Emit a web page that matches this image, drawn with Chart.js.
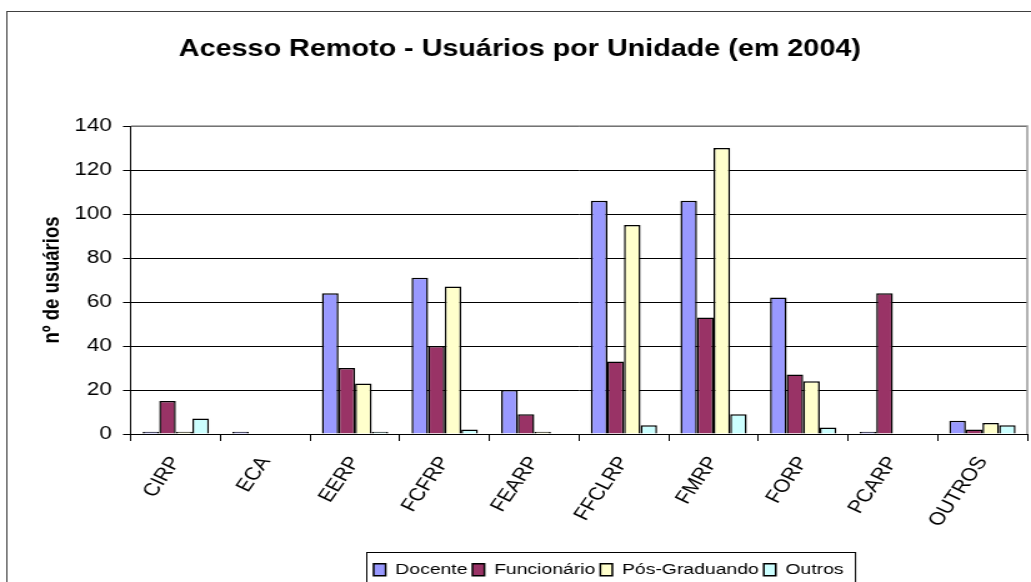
<!DOCTYPE html>
<html><head><meta charset="utf-8">
<script src="https://cdn.jsdelivr.net/npm/chart.js@4/dist/chart.umd.min.js"></script>
<style>html,body{margin:0;padding:0;background:#fff;overflow:hidden}
#c{display:block}</style>
</head><body>
<canvas id="c" width="825" height="582" style="width:1031px;height:582px"></canvas>
<script>
const categories = ['CIRP','ECA','EERP','FCFRP','FEARP','FFCLRP','FMRP','FORP','PCARP','OUTROS'];
const docente      = [1, 1, 64, 71, 20, 106, 106, 62, 1, 6];
const funcionario  = [15, 0, 30, 40, 9, 33, 53, 27, 64, 2];
const posGraduando = [1, 0, 23, 67, 1, 95, 130, 24, 0, 5];
const outros       = [7, 0, 1, 2, 0, 4, 9, 3, 0, 4];
const seriesNames  = ['Docente','Funcionário','Pós-Graduando','Outros'];
const yMin = 0, yMax = 140, yStep = 20;
const titleText = 'Acesso Remoto - Usuários por Unidade (em 2004)';
const yTitleText = 'nº de usuários';

const S = 1031 / 825; // horizontal stretch of the canvas
const FONT = "'Liberation Sans', Arial, sans-serif";
const LEGEND_FONT = 15.5, LEGEND_PAD = 4, LEGEND_BOXH = 12;
const LEGEND_H = Math.max(LEGEND_FONT, LEGEND_BOXH) + LEGEND_PAD + 10;
const LEGEND_CENTER_X = 487, LEGEND_DY = 5.5;
const TITLE_DX = 5;
const PLOT_BOTTOM = 434;

const decor = {
  id: 'decor',
  beforeDraw(chart) {
    const ctx = chart.ctx;
    ctx.save(); ctx.fillStyle = '#fff'; ctx.fillRect(0, 0, chart.width, chart.height); ctx.restore();
  },
  afterLayout(chart) {
    const lg = chart.legend;
    const dx = LEGEND_CENTER_X - (lg.left + lg.right) / 2;
    lg.left += dx; lg.right += dx; lg.top += LEGEND_DY; lg.bottom += LEGEND_DY;
    const tb = chart.titleBlock;
    if (tb) { tb.left += TITLE_DX; tb.right += TITLE_DX; }
  },
  afterDraw(chart) {
    const ctx = chart.ctx, a = chart.chartArea;
    ctx.save();
    ctx.strokeStyle = '#999'; ctx.lineWidth = 1.5;
    ctx.beginPath(); ctx.moveTo(a.left, a.top); ctx.lineTo(a.right, a.top); ctx.lineTo(a.right, a.bottom); ctx.stroke();
    ctx.strokeStyle = '#404040'; ctx.lineWidth = 1;
    ctx.strokeRect(5.5, 11.5, chart.width + 20, chart.height + 20);
    const lg = chart.legend, pad = lg.options.labels.padding;
    const lw = lg.lineWidths[0];
    const x0 = (lg.left + pad + lg.right - lw) / 2;
    ctx.strokeStyle = '#000'; ctx.lineWidth = 1;
    ctx.strokeRect(Math.round(x0 - 6) + 0.5, Math.round(lg.top - 6) + 0.5, lw - pad + 15, 60);
    ctx.restore();
  }
};

const colors = ['#9999FF', '#993366', '#FFFFCC', '#CCFFFF'];
const values = [docente, funcionario, posGraduando, outros];

const canvas = document.getElementById('c');
const chart = new Chart(canvas, {
  type: 'bar',
  data: {
    labels: categories,
    datasets: seriesNames.map((n, i) => ({
      label: n, data: values[i], backgroundColor: colors[i], borderColor: '#000', borderWidth: 1.5,
      categoryPercentage: 0.74, barPercentage: 1.0
    }))
  },
  options: {
    responsive: false, animation: false, devicePixelRatio: 1,
    layout: { padding: { left: 0, right: 3, top: 0, bottom: 0 } },
    plugins: {
      title: { display: true, text: titleText, color: '#000',
        font: { family: FONT, size: 23, weight: 'bold' }, padding: { top: 36.2, bottom: 62.2 } },
      legend: { display: true, position: 'bottom',
        labels: { color: '#000', font: { family: FONT, size: LEGEND_FONT }, boxWidth: 9.6, boxHeight: LEGEND_BOXH, padding: LEGEND_PAD } },
      tooltip: { enabled: false }
    },
    scales: {
      x: {
        grid: { display: true, drawOnChartArea: false, drawTicks: true, tickLength: 7, color: '#000', offset: true },
        border: { display: true, color: '#000', width: 1 },
        ticks: { color: '#000', font: { family: FONT, size: 18 }, minRotation: 60, maxRotation: 60, padding: 12, autoSkip: false },
        afterFit(s) { s.height = 582 - LEGEND_H - PLOT_BOTTOM; }
      },
      y: {
        min: yMin, max: yMax,
        ticks: { stepSize: yStep, color: '#000', font: { family: FONT, size: 18 }, padding: 8.8 },
        grid: { color: '#000', tickLength: 6.4, lineWidth: 1 },
        border: { display: true, color: '#000', width: 1 },
        title: { display: true, text: yTitleText, color: '#000', font: { family: FONT, size: 18.5, weight: 'bold' }, padding: { top: 30.5, bottom: 0 } },
        afterFit(s) { s.width = 131 / S; }
      }
    }
  },
  plugins: [decor]
});
canvas.style.width = '1031px';
canvas.style.height = '582px';
</script>
</body></html>
